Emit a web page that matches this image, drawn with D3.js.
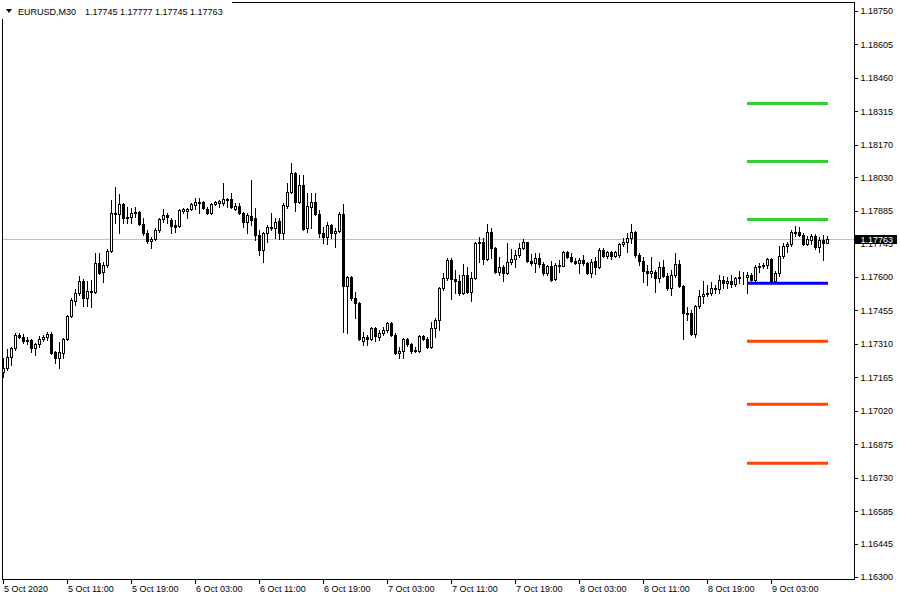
<!DOCTYPE html>
<html><head><meta charset="utf-8">
<script src="https://cdn.jsdelivr.net/npm/d3@7"></script>
<style>html,body{margin:0;padding:0;background:#fff;} svg{display:block;} text{font-family:"Liberation Sans",Arial,sans-serif;}</style>
</head><body><svg id="c" width="900" height="600"></svg>
<script>
const symbolText = "EURUSD,M30";
const lastOHLCText = "1.17745 1.17777 1.17745 1.17763";

const open = [1.17187,1.17204,1.17253,1.17291,1.17347,1.17339,1.17322,1.17326,1.17291,1.17309,
1.17330,1.17339,1.17352,1.17274,1.17248,1.17270,1.17330,1.17430,1.17495,1.17529,
1.17582,1.17507,1.17538,1.17533,1.17659,1.17620,1.17650,1.17711,1.17876,1.17871,
1.17915,1.17854,1.17858,1.17876,1.17880,1.17828,1.17789,1.17755,1.17763,1.17802,
1.17850,1.17867,1.17845,1.17823,1.17819,1.17885,1.17885,1.17893,1.17910,1.17923,
1.17923,1.17893,1.17876,1.17915,1.17919,1.17919,1.17936,1.17936,1.17893,1.17906,
1.17876,1.17836,1.17863,1.17854,1.17780,1.17715,1.17789,1.17811,1.17811,1.17841,
1.17789,1.17906,1.17966,1.18049,1.17923,1.17997,1.17811,1.17902,1.17923,1.17871,
1.17789,1.17772,1.17823,1.17789,1.17797,1.17871,1.17560,1.17599,1.17507,1.17486,
1.17322,1.17339,1.17330,1.17378,1.17339,1.17356,1.17369,1.17399,1.17347,1.17270,
1.17279,1.17330,1.17309,1.17279,1.17279,1.17343,1.17330,1.17296,1.17378,1.17412,
1.17551,1.17594,1.17672,1.17590,1.17582,1.17529,1.17607,1.17533,1.17594,1.17746,
1.17750,1.17676,1.17793,1.17724,1.17620,1.17642,1.17616,1.17663,1.17676,1.17694,
1.17724,1.17750,1.17668,1.17659,1.17680,1.17655,1.17616,1.17646,1.17590,1.17650,
1.17646,1.17707,1.17685,1.17668,1.17659,1.17672,1.17659,1.17616,1.17668,1.17642,
1.17715,1.17689,1.17707,1.17689,1.17694,1.17742,1.17750,1.17767,1.17793,1.17694,
1.17668,1.17625,1.17616,1.17620,1.17594,1.17642,1.17603,1.17551,1.17607,1.17655,
1.17560,1.17443,1.17443,1.17352,1.17474,1.17516,1.17525,1.17529,1.17551,1.17547,
1.17586,1.17573,1.17582,1.17568,1.17594,1.17599,1.17599,1.17607,1.17586,1.17642,
1.17646,1.17650,1.17676,1.17582,1.17616,1.17689,1.17733,1.17742,1.17789,1.17793,
1.17780,1.17742,1.17759,1.17776,1.17729,1.17759,1.17745];

const high = [1.17248,1.17287,1.17296,1.17356,1.17356,1.17352,1.17339,1.17330,1.17313,1.17343,
1.17347,1.17360,1.17360,1.17279,1.17317,1.17334,1.17434,1.17507,1.17547,1.17603,
1.17590,1.17582,1.17586,1.17702,1.17702,1.17663,1.17720,1.17932,1.17988,1.17958,
1.17919,1.17902,1.17897,1.17902,1.17885,1.17854,1.17802,1.17772,1.17811,1.17854,
1.17893,1.17876,1.17854,1.17845,1.17893,1.17897,1.17897,1.17919,1.17941,1.17941,
1.17928,1.17902,1.17919,1.17928,1.17932,1.18005,1.17941,1.17962,1.17919,1.17919,
1.17880,1.17876,1.18018,1.17897,1.17802,1.17793,1.17823,1.17876,1.17854,1.17854,
1.17919,1.18005,1.18092,1.18053,1.18040,1.18040,1.17962,1.17962,1.17962,1.17889,
1.17815,1.17836,1.17828,1.17811,1.17880,1.17915,1.17603,1.17603,1.17533,1.17491,
1.17360,1.17347,1.17382,1.17382,1.17369,1.17382,1.17403,1.17403,1.17356,1.17296,
1.17334,1.17334,1.17313,1.17296,1.17347,1.17347,1.17339,1.17403,1.17421,1.17555,
1.17616,1.17680,1.17680,1.17629,1.17607,1.17655,1.17642,1.17620,1.17750,1.17772,
1.17767,1.17828,1.17811,1.17729,1.17685,1.17650,1.17746,1.17720,1.17715,1.17746,
1.17763,1.17750,1.17698,1.17702,1.17702,1.17663,1.17650,1.17668,1.17659,1.17672,
1.17711,1.17711,1.17702,1.17680,1.17680,1.17694,1.17663,1.17676,1.17685,1.17724,
1.17724,1.17711,1.17711,1.17711,1.17746,1.17767,1.17789,1.17828,1.17797,1.17702,
1.17685,1.17650,1.17685,1.17629,1.17663,1.17672,1.17616,1.17629,1.17702,1.17672,
1.17564,1.17469,1.17456,1.17478,1.17542,1.17582,1.17564,1.17577,1.17564,1.17607,
1.17603,1.17599,1.17607,1.17599,1.17625,1.17620,1.17620,1.17616,1.17650,1.17659,
1.17659,1.17680,1.17680,1.17625,1.17733,1.17746,1.17750,1.17802,1.17819,1.17815,
1.17789,1.17776,1.17785,1.17785,1.17772,1.17780,1.17777];

const low = [1.17166,1.17196,1.17217,1.17283,1.17334,1.17313,1.17309,1.17274,1.17261,1.17296,
1.17322,1.17326,1.17266,1.17226,1.17204,1.17248,1.17326,1.17426,1.17478,1.17521,
1.17474,1.17474,1.17469,1.17529,1.17612,1.17577,1.17642,1.17707,1.17832,1.17789,
1.17832,1.17832,1.17832,1.17858,1.17823,1.17780,1.17746,1.17724,1.17759,1.17793,
1.17836,1.17832,1.17789,1.17793,1.17815,1.17876,1.17854,1.17889,1.17893,1.17876,
1.17893,1.17871,1.17871,1.17910,1.17902,1.17910,1.17902,1.17897,1.17889,1.17871,
1.17815,1.17789,1.17823,1.17759,1.17694,1.17663,1.17750,1.17802,1.17767,1.17763,
1.17763,1.17897,1.17962,1.17885,1.17919,1.17802,1.17793,1.17811,1.17867,1.17772,
1.17746,1.17742,1.17767,1.17729,1.17793,1.17360,1.17356,1.17499,1.17421,1.17326,
1.17304,1.17304,1.17326,1.17322,1.17326,1.17347,1.17360,1.17343,1.17266,1.17248,
1.17248,1.17300,1.17270,1.17274,1.17274,1.17326,1.17291,1.17291,1.17339,1.17369,
1.17542,1.17586,1.17503,1.17529,1.17521,1.17525,1.17529,1.17495,1.17590,1.17663,
1.17655,1.17672,1.17680,1.17616,1.17607,1.17582,1.17612,1.17655,1.17642,1.17685,
1.17720,1.17663,1.17650,1.17620,1.17642,1.17607,1.17607,1.17582,1.17586,1.17620,
1.17646,1.17680,1.17663,1.17655,1.17616,1.17650,1.17612,1.17599,1.17612,1.17637,
1.17685,1.17680,1.17676,1.17685,1.17685,1.17733,1.17707,1.17746,1.17685,1.17650,
1.17577,1.17564,1.17599,1.17533,1.17577,1.17599,1.17542,1.17521,1.17599,1.17555,
1.17330,1.17412,1.17347,1.17339,1.17465,1.17486,1.17516,1.17521,1.17529,1.17529,
1.17551,1.17551,1.17555,1.17560,1.17573,1.17568,1.17529,1.17577,1.17577,1.17620,
1.17637,1.17637,1.17577,1.17577,1.17603,1.17680,1.17707,1.17733,1.17776,1.17776,
1.17737,1.17737,1.17742,1.17720,1.17707,1.17672,1.17745];

const close = [1.17204,1.17253,1.17291,1.17347,1.17339,1.17322,1.17326,1.17291,1.17309,1.17330,
1.17339,1.17352,1.17270,1.17248,1.17274,1.17330,1.17430,1.17499,1.17529,1.17582,
1.17507,1.17538,1.17533,1.17659,1.17616,1.17650,1.17711,1.17876,1.17871,1.17915,
1.17854,1.17858,1.17876,1.17880,1.17828,1.17789,1.17755,1.17763,1.17802,1.17850,
1.17867,1.17858,1.17819,1.17815,1.17889,1.17893,1.17893,1.17915,1.17923,1.17919,
1.17897,1.17876,1.17915,1.17923,1.17928,1.17936,1.17932,1.17902,1.17906,1.17876,
1.17836,1.17867,1.17845,1.17780,1.17715,1.17789,1.17815,1.17815,1.17836,1.17789,
1.17910,1.17966,1.18049,1.17923,1.17997,1.17806,1.17906,1.17923,1.17871,1.17789,
1.17772,1.17823,1.17789,1.17797,1.17871,1.17560,1.17599,1.17507,1.17486,1.17330,
1.17339,1.17330,1.17378,1.17343,1.17356,1.17369,1.17399,1.17347,1.17270,1.17279,
1.17330,1.17309,1.17279,1.17283,1.17343,1.17330,1.17296,1.17378,1.17412,1.17551,
1.17594,1.17672,1.17590,1.17582,1.17529,1.17607,1.17533,1.17594,1.17746,1.17750,
1.17676,1.17793,1.17724,1.17620,1.17642,1.17616,1.17663,1.17676,1.17694,1.17724,
1.17750,1.17668,1.17659,1.17680,1.17655,1.17616,1.17646,1.17586,1.17650,1.17646,
1.17707,1.17685,1.17668,1.17659,1.17672,1.17659,1.17616,1.17663,1.17642,1.17715,
1.17689,1.17707,1.17689,1.17707,1.17742,1.17750,1.17767,1.17793,1.17694,1.17668,
1.17625,1.17616,1.17625,1.17594,1.17642,1.17603,1.17551,1.17607,1.17655,1.17560,
1.17443,1.17439,1.17352,1.17474,1.17516,1.17525,1.17529,1.17551,1.17547,1.17586,
1.17573,1.17582,1.17568,1.17594,1.17599,1.17597,1.17607,1.17586,1.17642,1.17646,
1.17650,1.17676,1.17582,1.17616,1.17689,1.17733,1.17742,1.17793,1.17793,1.17780,
1.17742,1.17763,1.17776,1.17729,1.17759,1.17746,1.17763];

const timeLabels = ["5 Oct 2020","5 Oct 11:00","5 Oct 19:00","6 Oct 03:00","6 Oct 11:00","6 Oct 19:00","7 Oct 03:00",
"7 Oct 11:00","7 Oct 19:00","8 Oct 03:00","8 Oct 11:00","8 Oct 19:00","9 Oct 03:00"];
const timeLabelBars = [0,16,32,48,64,80,96,112,128,144,160,176,192];

const priceTicks = [1.18750,1.18605,1.18460,1.18315,1.18170,1.18030,1.17885,1.17745,1.17600,1.17455,
1.17310,1.17165,1.17020,1.16875,1.16730,1.16585,1.16445,1.16300];

const levelValues = [1.18350,1.18099,1.17848,1.17571,1.17320,1.17048,1.16792];
const levelKinds = ["R","R","R","P","S","S","S"];
const levelStartBar = 186;
const currentPrice = 1.17763;

// ---- drawing ----
const svg = d3.select("#c");
svg.append("rect").attr("width",900).attr("height",600).attr("fill","#fff");

const n = close.length;
const x = d3.scaleLinear().domain([0, n-1]).range([3, 3 + 4*(n-1)]);
const y = d3.scaleLinear().domain([1.16300, 1.18750]).range([577, 11]);
const levelColor = {R:"#32cd32", P:"#0000ff", S:"#ff4500"};

const plot = svg.append("g").attr("shape-rendering","crispEdges");

// current price line
plot.append("line").attr("x1",2).attr("x2",854)
  .attr("y1",Math.round(y(currentPrice))+0.5).attr("y2",Math.round(y(currentPrice))+0.5)
  .attr("stroke","#c0c0c0").attr("stroke-width",1);

// candles
const bars = d3.range(n).map(i=>({i,o:open[i],h:high[i],l:low[i],c:close[i]}));
const g = plot.append("g");
g.selectAll("line.wick").data(bars).join("line").attr("class","wick")
  .attr("x1",d=>Math.round(x(d.i))+0.5).attr("x2",d=>Math.round(x(d.i))+0.5)
  .attr("y1",d=>Math.round(y(Math.max(d.h,d.o,d.c))))
  .attr("y2",d=>Math.round(y(Math.min(d.l,d.o,d.c)))+1)
  .attr("stroke","#000").attr("stroke-width",1);
g.selectAll("rect.body").data(bars).join("rect").attr("class","body")
  .attr("x",d=>Math.round(x(d.i))-1+0.5)
  .attr("y",d=>Math.round(y(Math.max(d.o,d.c)))+0.5)
  .attr("width",2)
  .attr("height",d=>Math.max(0, Math.round(y(Math.min(d.o,d.c))) - Math.round(y(Math.max(d.o,d.c)))))
  .attr("fill",d=>d.c>=d.o ? "#fff" : "#000")
  .attr("stroke","#000").attr("stroke-width",1);

// level lines
svg.append("g").selectAll("line").data(levelValues).join("line")
  .attr("x1",x(levelStartBar)).attr("x2",x(n-1)+1)
  .attr("y1",d=>y(d)).attr("y2",d=>y(d))
  .attr("stroke",(d,i)=>levelColor[levelKinds[i]]).attr("stroke-width",3);

// frame
const frame = svg.append("g").attr("shape-rendering","crispEdges").attr("stroke","#000").attr("fill","none");
frame.append("path").attr("d","M2.5,2.5 H854.5 V579.5 H2.5 Z");

// right price axis
const yAxis = d3.axisRight(y).tickValues(priceTicks).tickSize(3).tickSizeOuter(0).tickPadding(3)
  .tickFormat(d3.format(".5f"));
const ya = svg.append("g").attr("transform","translate(854.5,0)").call(yAxis);
ya.select(".domain").remove();
ya.selectAll("line").attr("stroke","#000").attr("shape-rendering","crispEdges");
ya.selectAll("text").attr("fill","#000").style("font-size","9px");

// bottom time axis
const xAxis = d3.axisBottom(x).tickValues(timeLabelBars).tickSize(4).tickSizeOuter(0)
  .tickFormat((d,i)=>timeLabels[i]);
const xa = svg.append("g").attr("transform","translate(0,579.5)").call(xAxis);
xa.select(".domain").remove();
xa.selectAll("line").attr("stroke","#000").attr("shape-rendering","crispEdges");
xa.selectAll("text").attr("fill","#000").style("font-size","9px")
  .attr("text-anchor","start").attr("dy",null).attr("y",12.5).attr("x",0.5);

// current price tag
const cy = y(currentPrice);
svg.append("rect").attr("x",855).attr("y",Math.round(cy)-4).attr("width",42).attr("height",9).attr("fill","#000");
svg.append("text").attr("x",860.5).attr("y",Math.round(cy)+3.5).attr("fill","#fff")
  .style("font-size","9px").text(d3.format(".5f")(currentPrice));

// header
svg.append("rect").attr("x",0).attr("y",0).attr("width",232).attr("height",19).attr("fill","#fff");
svg.append("path").attr("d","M6,9 L12,9 L9,13 Z").attr("fill","#000");
svg.append("text").attr("x",18).attr("y",15).style("font-size","9px").attr("fill","#000").text(symbolText);
svg.append("text").attr("x",85).attr("y",15).style("font-size","9px").attr("fill","#000").text(lastOHLCText);
</script></body></html>
